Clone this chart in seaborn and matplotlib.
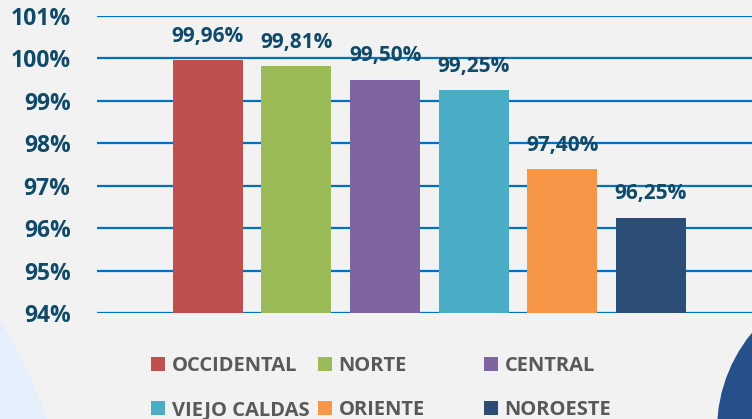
import matplotlib.pyplot as plt
import seaborn as sns
import pandas as pd
from matplotlib.patches import Circle

regions = ["OCCIDENTAL", "NORTE", "CENTRAL", "VIEJO CALDAS", "ORIENTE", "NOROESTE"]
values = [99.96, 99.81, 99.50, 99.25, 97.40, 96.25]
colors = ["#c0504d", "#9bbb59", "#8064a2", "#4bacc6", "#f79646", "#2c4d75"]
yticks = [94, 95, 96, 97, 98, 99, 100, 101]

BG = "#f2f2f2"
NAVY = "#0f4a68"
GRID = "#0070c0"

sns.set_theme(style="white")
plt.rcParams["font.family"] = ["Open Sans", "DejaVu Sans"]

df = pd.DataFrame({"region": regions, "value": values})

fig = plt.figure(figsize=(7.52, 4.19), dpi=100, facecolor=BG)
# decorative shapes in the corners
fig.patches.append(Circle((-5.0, -2.01), 5.83, transform=fig.dpi_scale_trans,
                          facecolor="#e5eefb", edgecolor="none", zorder=0))
fig.patches.append(Circle((8.70, -0.11), 1.53, transform=fig.dpi_scale_trans,
                          facecolor="#25508a", edgecolor="none", zorder=0))

ax = fig.add_axes([0.129, 0.253, 0.871, 0.709])
ax.set_facecolor("none")

sns.barplot(data=df, x="region", y="value", hue="region", palette=colors,
            dodge=False, width=0.79, legend=False, ax=ax, zorder=3,
            edgecolor="none", saturation=1)

ax.set_ylim(94, 101)
ax.set_xlim(-1.25, 6.14)
ax.set_yticks(yticks)
ax.set_yticklabels([f"{t}%" for t in yticks], fontsize=16.5, fontweight="bold", color=NAVY)
ax.tick_params(axis="y", length=0, pad=19)
ax.set_xticks([])
ax.set_xlabel("")
ax.set_ylabel("")
for t in yticks:
    ax.axhline(t, color=GRID, lw=1.6, zorder=1)
for s in ax.spines.values():
    s.set_visible(False)

for i, v in enumerate(values):
    ax.annotate(f"{v:.2f}%".replace(".", ","), (i, v), xytext=(0, 9.5),
                textcoords="offset points", ha="center", va="bottom",
                fontsize=15, fontweight="bold", color=NAVY, zorder=5,
                annotation_clip=False)

handles = [ax.patches[i] for i in range(len(regions))]
cols = [(0, 3), (1, 4), (2, 5)]
xpos = [151, 318, 484]
for (a, b), x in zip(cols, xpos):
    leg = fig.legend([handles[a], handles[b]], [regions[a], regions[b]],
                     loc="center left", bbox_to_anchor=(x / 752, 0.074),
                     frameon=False, ncol=1, borderpad=0, borderaxespad=0,
                     handlelength=0.7, handleheight=0.7, handletextpad=0.33,
                     labelspacing=1.2, prop={"family": "Open Sans", "weight": "bold", "size": 14.5})
    for txt in leg.get_texts():
        txt.set_color("#595959")

fig.savefig("out.png", dpi=100, facecolor=BG)
